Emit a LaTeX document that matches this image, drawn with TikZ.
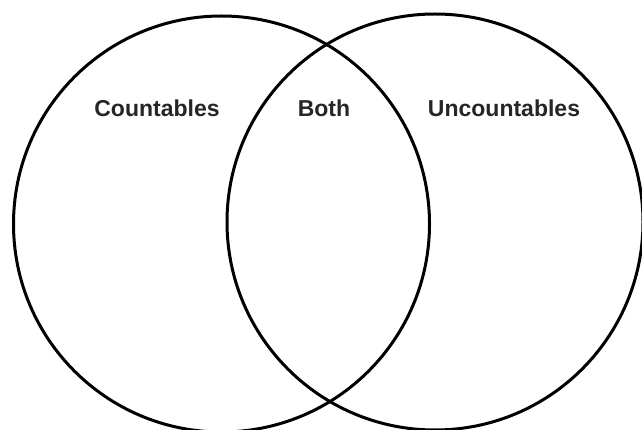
\documentclass[tikz,border=0pt]{standalone}
\usepackage{fontspec}
\setmainfont{Liberation Sans}
\begin{document}
\begin{tikzpicture}[x=1pt,y=-1pt,
  setcircle/.style={draw=black,line width=3pt},
  lbl/.style={font=\fontsize{23}{26}\selectfont\bfseries,text=black!85,inner sep=0pt}]
\useasboundingbox (0,0) rectangle (642,430);
\clip (0,0) rectangle (642,430);
\fill[white] (0,0) rectangle (642,430);
\node[setcircle,circle,minimum size=416pt,inner sep=0pt] (left) at (221.5,224) {};
\node[setcircle,circle,minimum size=416pt,inner sep=0pt] (right) at (435,222) {};
\node[lbl] (countables) at (157,108) {Countables};
\node[lbl] (both) at (324,108) {Both};
\node[lbl] (uncountables) at (504,108) {Uncountables};
\end{tikzpicture}
\end{document}
